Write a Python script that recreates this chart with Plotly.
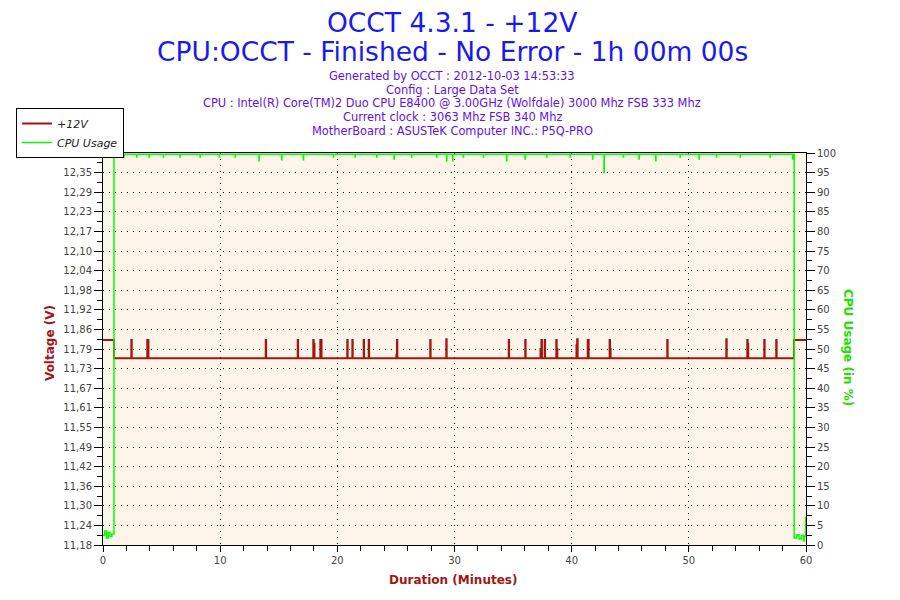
import plotly.graph_objects as go

# +12V readings (minutes, volts), drawn as a step line
volt_minutes = [
    0.00, 0.94,
    2.42, 2.45, 3.78, 3.88, 13.89, 13.92, 16.62, 16.65,
    17.95, 17.98, 18.05, 18.55, 18.65, 20.85, 20.88, 21.28, 21.31,
    22.25, 22.28, 22.68, 22.71, 25.04, 25.09, 25.12, 27.93, 27.96,
    29.30, 29.33, 34.63, 34.66, 36.04, 36.07, 37.34, 37.42, 37.46,
    37.70, 37.73, 38.69, 38.72, 38.78, 40.41, 40.47, 40.51, 41.37, 41.45,
    43.24, 43.27, 43.32, 48.16, 48.19, 53.20, 53.23, 54.99, 55.02, 55.07,
    56.44, 56.47, 57.46, 57.49, 58.97, 60.00,
]
volt_values = [
    11.822, 11.765,
    11.822, 11.765, 11.822, 11.765, 11.822, 11.765, 11.822, 11.765,
    11.822, 11.810, 11.765, 11.822, 11.765, 11.822, 11.765, 11.822, 11.765,
    11.822, 11.765, 11.822, 11.765, 11.775, 11.822, 11.765, 11.822, 11.765,
    11.825, 11.765, 11.822, 11.765, 11.822, 11.765, 11.794, 11.822, 11.765,
    11.822, 11.765, 11.822, 11.794, 11.765, 11.806, 11.825, 11.765, 11.822, 11.765,
    11.822, 11.794, 11.765, 11.822, 11.765, 11.825, 11.765, 11.822, 11.810, 11.765,
    11.822, 11.765, 11.822, 11.765, 11.822, 11.822,
]

# CPU usage (minutes, %)
cpu_minutes = [
    0.00, 0.15, 0.30, 0.45, 0.60, 0.75, 0.94,
    1.79, 1.81, 2.87, 2.89, 3.93, 3.95, 5.15, 5.17, 6.57, 6.59, 8.28, 8.30,
    9.93, 9.95, 11.27, 11.29, 13.31, 13.33, 15.25, 15.27, 17.10, 17.12,
    19.66, 19.68, 21.51, 21.53, 23.36, 23.38, 24.84, 24.86, 26.34, 26.36,
    28.48, 28.50, 29.33, 29.35, 29.84, 29.86, 30.75, 30.77, 32.46, 32.48,
    34.45, 34.47, 36.02, 36.04, 37.87, 37.89, 39.86, 39.88, 41.79, 41.81,
    42.76, 42.78, 44.41, 44.43, 45.75, 45.77, 47.17, 47.19, 49.25, 49.27,
    50.87, 50.89, 52.37, 52.39, 54.37, 54.39, 56.93, 56.95, 58.86, 58.88,
    58.99, 59.20, 59.40, 59.60, 59.80, 59.85, 59.97, 60.00,
]
cpu_values = [
    2.5, 3.6, 1.8, 3.2, 2.2, 2.8, 99.7,
    99.0, 99.7, 99.0, 99.7, 99.0, 99.7, 99.0, 99.7, 99.0, 99.7, 99.0, 99.7,
    99.0, 99.7, 99.0, 99.7, 98.0, 99.7, 98.3, 99.7, 98.3, 99.7,
    99.0, 99.7, 99.0, 99.7, 99.0, 99.7, 98.5, 99.7, 99.0, 99.7,
    99.0, 99.7, 98.0, 99.7, 98.0, 99.7, 99.0, 99.7, 99.0, 99.7,
    98.0, 99.7, 98.5, 99.7, 99.0, 99.7, 99.0, 99.7, 98.5, 99.7,
    95.0, 99.7, 99.0, 99.7, 98.5, 99.7, 98.0, 99.7, 99.0, 99.7,
    98.5, 99.7, 99.0, 99.7, 99.0, 99.7, 99.0, 99.7, 98.5, 99.7,
    1.8, 2.6, 1.5, 2.4, 1.0, 2.2, 7.0, 7.0,
]

volt_tick_labels = [
    "11,18", "11,24", "11,30", "11,36", "11,42", "11,49", "11,55",
    "11,61", "11,67", "11,73", "11,79", "11,86", "11,92", "11,98",
    "12,04", "12,10", "12,17", "12,23", "12,29", "12,35", "12,41",
]
volt_min = 11.178
volt_step = 0.0616

title_lines = ["OCCT 4.3.1 - +12V", "CPU:OCCT - Finished - No Error - 1h 00m 00s"]
info_lines = [
    "Generated by OCCT : 2012-10-03 14:53:33",
    "Config : Large Data Set",
    "CPU : Intel(R) Core(TM)2 Duo CPU E8400 @ 3.00GHz (Wolfdale) 3000 Mhz FSB 333 Mhz",
    "Current clock : 3063 Mhz FSB 340 Mhz",
    "MotherBoard : ASUSTeK Computer INC.: P5Q-PRO",
]

RED = "#a31515"
GREEN = "#00ff00"
FONT = "DejaVu Sans"

volt_tick_pos = [volt_min + i * volt_step for i in range(len(volt_tick_labels))]
volt_minor_pos = [p + volt_step / 2 for p in volt_tick_pos[:-1]]

fig = go.Figure()
fig.add_trace(
    go.Scatter(
        x=volt_minutes, y=volt_values, mode="lines", line_shape="hv",
        line=dict(color=RED, width=2), name="+12V", yaxis="y",
    )
)
fig.add_trace(
    go.Scatter(
        x=cpu_minutes, y=cpu_values, mode="lines", line_shape="hv",
        line=dict(color=GREEN, width=1.5), name="CPU Usage", yaxis="y2",
    )
)

# the page body adds an 8px offset, so figure coordinates are page pixels - 8
OFF = 8
W, H = 900, 600
L, T = 103 - OFF, 153 - OFF
R, B = W - (806 - OFF), H - (545 - OFF)
PW, PH = W - L - R, H - T - B


def px(x):
    return (x - OFF - L) / PW


def py(y):
    return (H - B - (y - OFF)) / PH


annotations = []
for i, line in enumerate(title_lines):
    annotations.append(dict(
        text=line, y=[22, 51][i], font=dict(family=FONT, size=26.5, color="#1a1aee"),
    ))
for i, line in enumerate(info_lines):
    annotations.append(dict(
        text=line, y=76 + i * 13.7, font=dict(family=FONT, size=11.4, color="#6010f0"),
    ))
for a in annotations:
    a["x"] = px(452)
    a["y"] = py(a["y"])
    a.update(xref="paper", yref="paper", showarrow=False, xanchor="center",
             yanchor="middle", borderpad=0)

annotations += [
    dict(text="<b>Voltage (V)</b>", x=px(50), y=py(343), textangle=-90,
         font=dict(family=FONT, size=12, color=RED)),
    dict(text="<b>CPU Usage (in %)</b>", x=px(848), y=py(348), textangle=90,
         font=dict(family=FONT, size=12, color="#22e000")),
    dict(text="<b>Duration (Minutes)</b>", x=px(453), y=py(580),
         font=dict(family=FONT, size=12, color=RED)),
]
for a in annotations[-3:]:
    a.update(xref="paper", yref="paper", showarrow=False, xanchor="center", yanchor="middle")

grid = dict(showgrid=True, gridcolor="black", gridwidth=1, griddash="1px,5px")
tickfont = dict(family=FONT, size=10, color="#444444")

fig.update_layout(
    width=W, height=H,
    margin=dict(l=L, r=R, t=T, b=B, autoexpand=False),
    paper_bgcolor="white", plot_bgcolor="#fdf6e8",
    annotations=annotations,
    showlegend=True,
    legend=dict(
        x=px(16), y=py(108), xanchor="left", yanchor="top",
        bordercolor="black", borderwidth=1, bgcolor="white",
        font=dict(family=FONT, size=11, color="#222222", style="italic"),
        tracegroupgap=0, itemwidth=30,
    ),
    xaxis=dict(
        range=[0, 60], tickvals=[0, 10, 20, 30, 40, 50, 60], ticks="outside", ticklen=6,
        tickcolor="black", showline=True, linecolor="black", mirror=True, zeroline=False,
        tickfont=tickfont, minor=dict(dtick=2, ticks="outside", ticklen=5, tickcolor="black"),
        **grid,
    ),
    yaxis=dict(
        range=[volt_min, volt_min + 20 * volt_step], tickvals=volt_tick_pos,
        ticktext=volt_tick_labels, ticks="outside", ticklen=8, tickcolor="black",
        showline=True, linecolor="black", zeroline=False, tickfont=tickfont,
        minor=dict(tickvals=volt_minor_pos, ticks="outside", ticklen=5, tickcolor="black"),
        **grid,
    ),
    yaxis2=dict(
        range=[0, 100], dtick=5, overlaying="y", side="right", ticks="outside",
        ticklen=8, tickcolor="black", showline=True, linecolor="black",
        showgrid=False, zeroline=False, tickfont=tickfont,
        minor=dict(dtick=2.5, ticks="outside", ticklen=5, tickcolor="black"),
    ),
)

fig.write_html("out.html")
